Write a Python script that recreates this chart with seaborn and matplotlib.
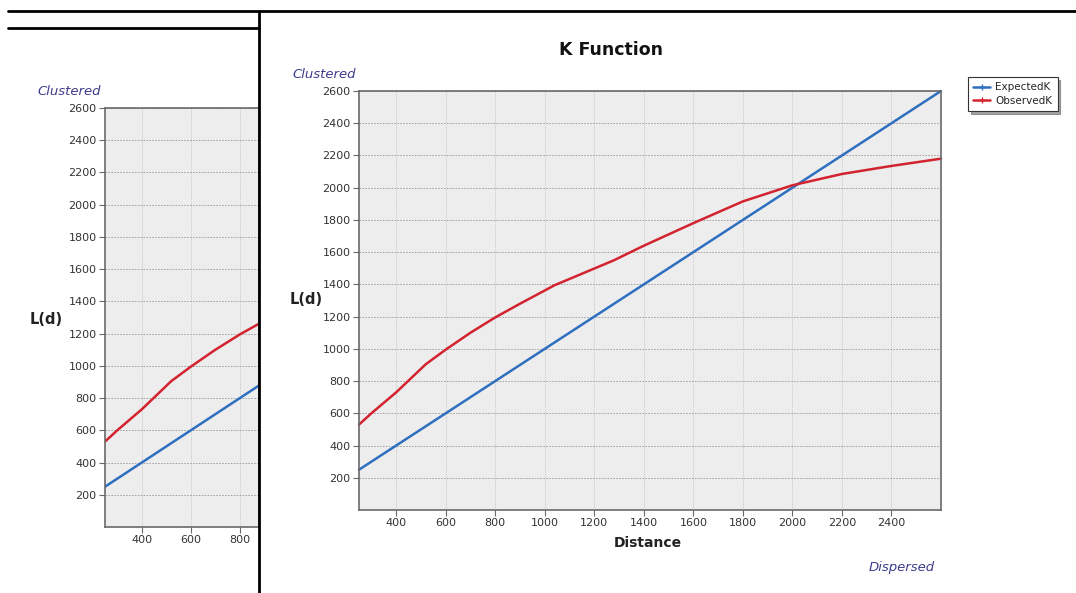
import matplotlib
matplotlib.use("Agg")
import matplotlib.pyplot as plt
import seaborn as sns
import pandas as pd
from matplotlib.patches import Rectangle
from matplotlib.lines import Line2D

# ---- data ----
expected_distance = [250, 2600]
expected_k = [250, 2600]
observed_distance = [250, 300, 400, 520, 600, 700, 800, 900, 1040, 1280, 1400,
                     1600, 1800, 2000, 2200, 2400, 2600]
observed_k = [530, 600, 730, 905, 995, 1100, 1195, 1280, 1395, 1550, 1640,
              1780, 1915, 2015, 2085, 2135, 2180]
series_names = ["ExpectedK", "ObservedK"]
y_ticks = [200, 400, 600, 800, 1000, 1200, 1400, 1600, 1800, 2000, 2200, 2400, 2600]
x_ticks = [400, 600, 800, 1000, 1200, 1400, 1600, 1800, 2000, 2200, 2400]

df = pd.concat([
    pd.DataFrame({"Distance": expected_distance, "L": expected_k, "series": series_names[0]}),
    pd.DataFrame({"Distance": observed_distance, "L": observed_k, "series": series_names[1]}),
])
palette = {"ExpectedK": "#2f6fc0", "ObservedK": "#d2232f"}

sns.set_theme(style="white")
plt.rcParams['font.family'] = ['DejaVu Sans']

W, H = 1076, 593
fig = plt.figure(figsize=(W / 100, H / 100), dpi=100)
fig.patch.set_facecolor("white")

def px(x0, y0, x1, y1):
    return [x0 / W, 1 - y1 / H, (x1 - x0) / W, (y1 - y0) / H]

def style_axes(ax, xlim):
    ax.set_facecolor("#ededed")
    ax.set_xlim(*xlim)
    ax.set_ylim(0, 2600)
    ax.set_xticks([t for t in x_ticks if xlim[0] <= t <= xlim[1]])
    ax.set_yticks(y_ticks)
    ax.xaxis.grid(True, color="#c4c4c4", linestyle=(0, (1.5, 1.5)), linewidth=0.6)
    ax.yaxis.grid(True, color="#9a9a9a", linestyle=(0, (2, 1.5)), linewidth=0.6)
    ax.set_axisbelow(True)
    for s in ax.spines.values():
        s.set_color("#6a6a6a")
        s.set_linewidth(1.2)
    ax.tick_params(axis="both", direction="out", length=4, width=0.8, color="#6a6a6a",
                   labelsize=8, labelcolor="#333333", pad=2, bottom=True, left=True)
    ax.set_xlabel("")
    ax.set_ylabel("")

# ---- left (partially hidden) chart: only the visible part up to the window edge ----
axL = fig.add_axes(px(105, 108, 259, 527))
axL.set_zorder(0)
sns.lineplot(data=df, x="Distance", y="L", hue="series", palette=palette, ax=axL,
             linewidth=1.8, legend=False)
style_axes(axL, (250, 878))
fig.text(37 / W, 1 - 92 / H, "Clustered", fontsize=9.5, style="italic", color="#3c3c8c",
         ha="left", va="center")
fig.text(46 / W, 1 - 319 / H, "L(d)", fontsize=10.5, fontweight="bold", color="#222222",
         ha="center", va="center")

# ---- right (main) chart ----
axR = fig.add_axes(px(359, 91, 941, 510))
axR.set_zorder(2)
sns.lineplot(data=df, x="Distance", y="L", hue="series", palette=palette, ax=axR,
             linewidth=1.8, legend=False)
style_axes(axR, (250, 2600))
for ln in axR.get_lines():
    ln.set_clip_on(False)

fig.text(611 / W, 1 - 50 / H, "K Function", fontsize=12.5, fontweight="bold", color="#111111",
         ha="center", va="center", zorder=3)
fig.text(292 / W, 1 - 74 / H, "Clustered", fontsize=9.5, style="italic", color="#3c3c8c",
         ha="left", va="center", zorder=3)
fig.text(306 / W, 1 - 300 / H, "L(d)", fontsize=10.5, fontweight="bold", color="#222222",
         ha="center", va="center", zorder=3)
fig.text(648 / W, 1 - 543 / H, "Distance", fontsize=10, fontweight="bold", color="#222222",
         ha="center", va="center", zorder=3)
fig.text(902 / W, 1 - 567 / H, "Dispersed", fontsize=9.5, style="italic", color="#3c3c8c",
         ha="center", va="center", zorder=3)

handles = [Line2D([0], [0], color=palette[n], lw=1.8, marker="+", markersize=4) for n in series_names]
leg = fig.legend(handles, series_names, loc="upper left", bbox_to_anchor=(963 / W, 1 - 72 / H),
                 bbox_transform=fig.transFigure, fontsize=7.5, frameon=True, shadow=True,
                 fancybox=False, borderpad=0.5, labelspacing=0.3, handlelength=1.6,
                 handletextpad=0.5, edgecolor="#333333")
leg.set_zorder(3)
leg.get_frame().set_linewidth(0.8)

# ---- window frame lines ----
kw = dict(transform=fig.transFigure, color="black", linewidth=2, zorder=4)
fig.add_artist(Line2D([8 / W, 1], [1 - 11 / H, 1 - 11 / H], **kw))
fig.add_artist(Line2D([8 / W, 259 / W], [1 - 28 / H, 1 - 28 / H], **kw))
fig.add_artist(Line2D([259 / W, 259 / W], [1 - 11 / H, 0], **kw))

fig.savefig("out.png", dpi=100)
